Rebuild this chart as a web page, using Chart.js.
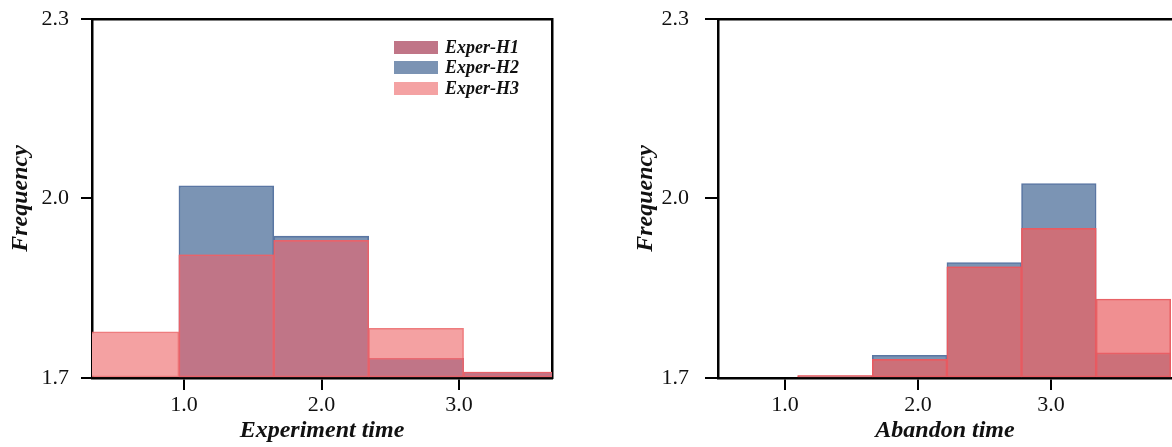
<!DOCTYPE html>
<html>
<head>
<meta charset="utf-8">
<script src="https://cdn.jsdelivr.net/npm/chart.js@4/dist/chart.umd.min.js"></script>
<style>
  body { margin: 0; background: #fff; }
  .panel { position: absolute; top: 0; height: 447px; }
  #legend {
    position: absolute; left: 394px; top: 37px;
    font-family: "Liberation Serif", serif; font-style: italic; font-weight: bold;
    font-size: 18px; color: #111;
  }
  #legend div { display: flex; align-items: center; height: 20.5px; }
  #legend span { display: inline-block; width: 44px; height: 13px; margin-right: 7px; }
</style>
</head>
<body>
<div class="panel" style="left:0;width:590px"><canvas id="expChart" width="590" height="447"></canvas></div>
<div class="panel" style="left:590px;width:582px"><canvas id="abdChart" width="582" height="447"></canvas></div>
<div id="legend"></div>

<script>
const seriesNames = ['Exper-H1', 'Exper-H2', 'Exper-H3'];
const yTicks = [1.7, 2.0, 2.3];
const xTicks = [1.0, 2.0, 3.0];

// Experiment time histogram, bin centres and heights
const expBins = [0.618, 1.308, 1.998, 2.688, 3.378];
const expH1 = [null, 1.906, 1.930, 1.733, 1.710];
const expH2 = [null, 2.021, 1.937, 1.733, 1.709];
const expH3 = [1.777, 1.906, 1.930, 1.783, 1.710];

// Abandon time histogram
const abdBins = [1.376, 1.937, 2.498, 3.059, 3.620];
const abdH1 = [1.704, 1.731, 1.886, 1.950, 1.742];
const abdH2 = [null, 1.738, 1.893, 2.025, 1.742];
const abdH3 = [1.704, 1.731, 1.886, 1.950, 1.832];

const serif = 'Liberation Serif';

function pts(bins, vals) {
  return bins.map((x, i) => ({ x: x, y: vals[i] })).filter(p => p.y !== null);
}

function bar(label, bins, vals, fill, edge, order) {
  return {
    label: label,
    data: pts(bins, vals),
    backgroundColor: fill,
    borderColor: edge,
    borderWidth: 1.6,
    borderSkipped: false,
    base: 1.7,
    grouped: false,
    barPercentage: 1,
    categoryPercentage: 1,
    order: order
  };
}

function makeChart(id, cfg) {
  const fixTicks = (vals) => (scale) => { scale.ticks = vals.map(v => ({ value: v })); };
  const titleFont = { family: serif, size: 24, style: 'italic', weight: 'bold' };
  const scales = {
    x: {
      type: 'linear', position: 'bottom', min: cfg.xMin, max: cfg.xMax, z: 1,
      offset: false,
      afterBuildTicks: fixTicks(xTicks),
      afterFit: (s) => { s.height = 69; },
      ticks: { padding: 2, color: '#111', font: { family: serif, size: 22 },
               callback: v => v.toFixed(1) },
      grid: { offset: false, drawOnChartArea: false, drawTicks: true, tickLength: 12, lineWidth: 2, color: '#000' },
      border: { display: true, color: '#000', width: 2.5 },
      title: { display: true, text: cfg.xTitle, color: '#111', padding: { top: 0, bottom: 2 }, font: titleFont }
    },
    y: {
      type: 'linear', position: 'left', min: 1.7, max: 2.3, z: 1,
      afterBuildTicks: fixTicks(yTicks),
      // keep the end labels from pushing the plot frame inwards
      afterFit: (s) => { s.width = cfg.yWidth; s.paddingTop = 0; s.paddingBottom = 0; },
      ticks: { padding: cfg.yPad, color: '#111', font: { family: serif, size: 22 },
               callback: v => v.toFixed(1) },
      grid: { drawOnChartArea: false, drawTicks: true, tickLength: cfg.yTick, lineWidth: 2, color: '#000' },
      border: { display: true, color: '#000', width: 2.5 },
      title: { display: true, text: 'Frequency', color: '#111', padding: { top: cfg.yTitlePad, bottom: 0 }, font: titleFont }
    },
    xTop: {
      type: 'linear', position: 'top', z: 1,
      afterFit: (s) => { s.height = 19; },
      ticks: { display: false },
      grid: { display: false },
      border: { display: true, color: '#000', width: 2.5 }
    }
  };
  if (cfg.rightFrame) {
    scales.yRight = {
      type: 'linear', position: 'right', z: 1,
      afterFit: (s) => { s.width = cfg.rightFrame; s.paddingTop = 0; s.paddingBottom = 0; },
      ticks: { display: false },
      grid: { display: false },
      border: { display: true, color: '#000', width: 2.5 }
    };
  }
  return new Chart(id, {
    type: 'bar',
    data: { datasets: cfg.datasets },
    options: {
      responsive: false,
      animation: false,
      layout: { padding: 0 },
      plugins: { legend: { display: false }, tooltip: { enabled: false } },
      scales: scales
    }
  });
}

makeChart('expChart', {
  xMin: 0.331, xMax: 3.676, xTitle: 'Experiment time',
  yWidth: 92, yPad: 12, yTick: 11, yTitlePad: 6, rightFrame: 38,
  datasets: [
    bar(seriesNames[0], expBins, expH1, '#c07587', 'rgba(232,96,104,0.85)', 1),
    bar(seriesNames[1], expBins, expH2, '#7b94b4', '#5a76a3', 3),
    bar(seriesNames[2], expBins, expH3, '#f4a1a2', 'rgba(236,110,112,0.9)', 2)
  ]
});

makeChart('abdChart', {
  xMin: 0.496, xMax: 3.91, xTitle: 'Abandon time',
  yWidth: 128, yPad: 16, yTick: 13, yTitlePad: 41, rightFrame: 0,
  datasets: [
    bar(seriesNames[0], abdBins, abdH1, '#cc7079', 'rgba(232,90,96,0.9)', 1),
    bar(seriesNames[1], abdBins, abdH2, '#7b94b4', '#5a76a3', 3),
    bar(seriesNames[2], abdBins, abdH3, '#f08f91', '#e86266', 2)
  ]
});

// legend box inside the left plot
const swatches = ['#c07587', '#7b93b3', '#f4a2a3'];
document.getElementById('legend').innerHTML = seriesNames
  .map((n, i) => '<div><span style="background:' + swatches[i] + '"></span>' + n + '</div>')
  .join('');
</script>
</body>
</html>
